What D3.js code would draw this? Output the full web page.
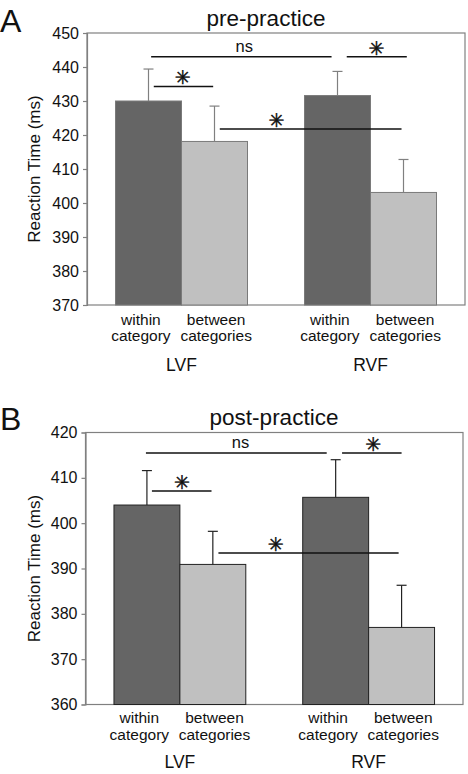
<!DOCTYPE html>
<html>
<head>
<meta charset="utf-8">
<script src="https://cdn.jsdelivr.net/npm/d3@7"></script>
<style>
  html, body { margin: 0; padding: 0; background: #fff; }
  svg { display: block; font-family: "Liberation Sans", Arial, sans-serif; }
</style>
</head>
<body>
<svg id="chart" width="468" height="774"></svg>
<script>
// ---------- data ----------
const groups = ["LVF", "RVF"];
const conditions = ["within category", "between categories"];
const conditionLines = [["within", "category"], ["between", "categories"]];

// pre-practice (panel A)
const preMeans = [[430.0, 418.1], [431.6, 403.1]];
const preErrTop = [[439.4, 428.5], [438.7, 412.8]];
const preTicks = [370, 380, 390, 400, 410, 420, 430, 440, 450];

// post-practice (panel B)
const postMeans = [[404.0, 390.9], [405.7, 377.0]];
const postErrTop = [[411.6, 398.2], [414.0, 386.3]];
const postTicks = [360, 370, 380, 390, 400, 410, 420];

const STAR = "\u2733\uFE0E";
// significance annotations: [group, cond, offset(bar widths)] endpoints, y (ms), label, label anchor
const preSig = [
  { a: [0, 0, 0.04], b: [1, 0, -0.09], y: 443.0, label: "ns", at: [0, 0, 1.45] },
  { a: [0, 0, 0.08], b: [0, 1, -0.02], y: 434.3, label: STAR, at: [0, 0, 0.52] },
  { a: [1, 0, 0.14], b: [1, 1, 0.05], y: 443.0, label: STAR, at: [1, 0, 0.59] },
  { a: [0, 1, 0.08], b: [1, 1, -0.03], y: 421.8, label: STAR, at: [0, 1, 0.94] }
];
const postSig = [
  { a: [0, 0, -0.015], b: [1, 0, -0.136], y: 415.5, label: "ns", at: [0, 0, 1.42] },
  { a: [0, 0, 0.076], b: [0, 1, -0.02], y: 407.1, label: STAR, at: [0, 0, 0.53] },
  { a: [1, 0, 0.097], b: [1, 1, 0.0], y: 415.5, label: STAR, at: [1, 0, 0.57] },
  { a: [0, 1, 0.085], b: [1, 1, -0.045], y: 393.4, label: STAR, at: [0, 1, 0.955] }
];

const barColors = ["#656565", "#c0c0c0"];
const labelShift = [-0.115, 0.025]; // x-label offset per condition (bar widths)

const panels = [
  { letter: "A", title: "pre-practice", means: preMeans, err: preErrTop, ticks: preTicks,
    sig: preSig, box: { x0: 87, x1: 465, y0: 33, y1: 305 },
    barStroke: "#7a7a7a", errStroke: "#808080", frame: "#808080",
    letterY: 32, titleY: 26, titleX: 266, lab1: 325, lab2: 341, grp: 371 },
  { letter: "B", title: "post-practice", means: postMeans, err: postErrTop, ticks: postTicks,
    sig: postSig, box: { x0: 85.5, x1: 463, y0: 432.5, y1: 704.5 },
    barStroke: "#222", errStroke: "#222", frame: "#808080",
    letterY: 430, titleY: 425, titleX: 274, lab1: 723, lab2: 740, grp: 768 }
];

const svg = d3.select("#chart");
const FF = "'Liberation Sans', Arial, sans-serif";

panels.forEach(p => {
  const g = svg.append("g").attr("font-family", FF);
  const { x0, x1, y0, y1 } = p.box;
  const ext = d3.extent(p.ticks);
  const y = d3.scaleLinear().domain(ext).range([y1, y0]);
  const xg = d3.scaleBand().domain(groups).range([x0, x1]).paddingInner(0.3016).paddingOuter(0.1508);
  const xc = d3.scaleBand().domain(conditions).range([0, xg.bandwidth()]);
  const bw = xc.bandwidth();
  const center = (gi, ci, off) => xg(groups[gi]) + xc(conditions[ci]) + bw / 2 + (off || 0) * bw;

  // letter & title
  g.append("text").attr("x", 0).attr("y", p.letterY).attr("font-size", 32).attr("fill", "#111").text(p.letter);
  g.append("text").attr("x", p.titleX).attr("y", p.titleY).attr("text-anchor", "middle")
    .attr("font-size", 22.5).attr("fill", "#111").text(p.title);

  // frame
  g.append("rect").attr("x", x0).attr("y", y0).attr("width", x1 - x0).attr("height", y1 - y0)
    .attr("fill", "none").attr("stroke", p.frame).attr("stroke-width", 1.2);

  // bars
  const rows = [];
  groups.forEach((gr, gi) => conditions.forEach((c, ci) => rows.push({ gi, ci, m: p.means[gi][ci], e: p.err[gi][ci] })));
  g.selectAll("rect.bar").data(rows).join("rect").attr("class", "bar")
    .attr("x", d => xg(groups[d.gi]) + xc(conditions[d.ci]))
    .attr("width", bw)
    .attr("y", d => y(d.m))
    .attr("height", d => y(ext[0]) - y(d.m))
    .attr("fill", d => barColors[d.ci])
    .attr("stroke", p.barStroke).attr("stroke-width", 1);

  // error bars
  const eb = g.selectAll("g.err").data(rows).join("g").attr("class", "err")
    .attr("stroke", p.errStroke).attr("stroke-width", 1.2);
  eb.append("line").attr("x1", d => center(d.gi, d.ci)).attr("x2", d => center(d.gi, d.ci))
    .attr("y1", d => y(d.m)).attr("y2", d => y(d.e));
  eb.append("line").attr("x1", d => center(d.gi, d.ci) - 5).attr("x2", d => center(d.gi, d.ci) + 5)
    .attr("y1", d => y(d.e)).attr("y2", d => y(d.e));

  // y axis
  const ax = g.append("g").attr("transform", `translate(${x0},0)`)
    .call(d3.axisLeft(y).tickValues(p.ticks).tickSize(4).tickPadding(4).tickFormat(d3.format("d")));
  ax.attr("font-family", FF).attr("font-size", 16);
  ax.select(".domain").attr("stroke", p.frame).attr("stroke-width", 1.2);
  ax.selectAll(".tick line").attr("stroke", p.frame).attr("stroke-width", 1.2);
  ax.selectAll(".tick text").attr("font-size", 16).attr("fill", "#111");

  g.append("text").attr("transform", `translate(40,${(y0 + y1) / 2}) rotate(-90)`)
    .attr("text-anchor", "middle").attr("font-size", 17).attr("fill", "#111").text("Reaction Time (ms)");

  // x labels
  groups.forEach((gr, gi) => {
    conditions.forEach((c, ci) => {
      const cx = center(gi, ci, labelShift[ci]);
      const t = g.append("text").attr("text-anchor", "middle").attr("font-size", 15.5).attr("fill", "#111");
      t.append("tspan").attr("x", cx).attr("y", p.lab1).text(conditionLines[ci][0]);
      t.append("tspan").attr("x", cx).attr("y", p.lab2).text(conditionLines[ci][1]);
    });
    g.append("text").attr("x", xg(gr) + xg.bandwidth() / 2).attr("y", p.grp)
      .attr("text-anchor", "middle").attr("font-size", 17.5).attr("fill", "#111").text(gr);
  });

  // significance
  p.sig.forEach(s => {
    const ya = y(s.y);
    g.append("line").attr("x1", center(...s.a)).attr("x2", center(...s.b))
      .attr("y1", ya).attr("y2", ya).attr("stroke", "#111").attr("stroke-width", 1.5);
    if (s.label === "ns") {
      g.append("text").attr("x", center(...s.at)).attr("y", ya - 5).attr("text-anchor", "middle")
        .attr("font-size", 16.5).attr("fill", "#111").text(s.label);
    } else {
      g.append("text").attr("x", center(...s.at)).attr("y", ya - 9).attr("text-anchor", "middle")
        .attr("dominant-baseline", "central").attr("font-family", "'DejaVu Sans', sans-serif")
        .attr("font-size", 19).attr("fill", "#111").attr("stroke", "#111").attr("stroke-width", 0.5)
        .text(s.label);
    }
  });
});
</script>
</body>
</html>
